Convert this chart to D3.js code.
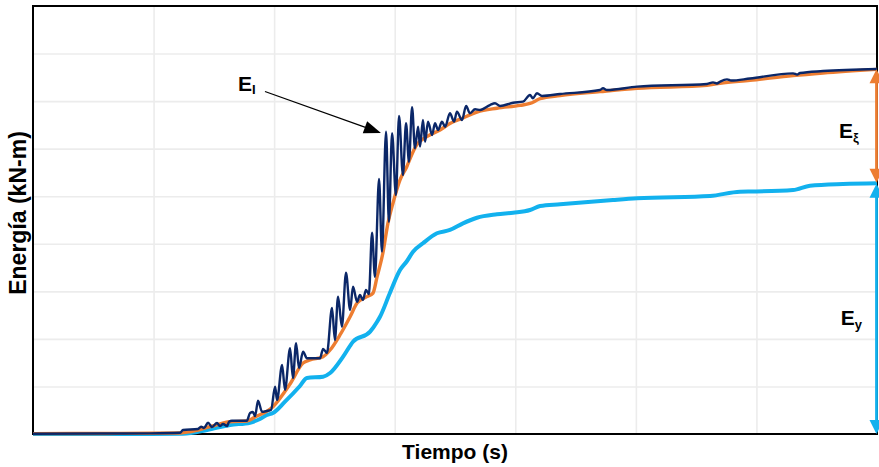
<!DOCTYPE html>
<html>
<head>
<meta charset="utf-8">
<script src="https://cdn.jsdelivr.net/npm/d3@7/dist/d3.min.js"></script>
<style>
  html, body { margin: 0; padding: 0; background: #fff; }
  svg { display: block; }
  text { font-family: "Liberation Sans", Arial, sans-serif; font-weight: bold; fill: #000; }
</style>
</head>
<body>
<svg id="chart" width="879" height="467"></svg>
<script>
// ---- Data (time in s, energy in kN-m) ----
// E_I : input energy (dark blue, oscillating)
const eiTime = [0, 2.78, 4.85, 6.10, 6.22, 6.84, 6.97, 7.09, 7.26, 7.42, 7.63, 7.75, 7.88, 8.05, 8.13, 8.25, 8.87,
  9.00, 9.12, 9.21, 9.33, 9.50, 9.70, 9.87, 10.04, 10.12, 10.33, 10.45, 10.66, 10.78, 10.91, 11.03, 11.20, 11.36,
  11.90, 12.03, 12.19, 12.40, 12.52, 12.65, 12.81, 12.98, 13.15, 13.27, 13.44, 13.56, 13.68, 13.81, 13.93, 14.06,
  14.18, 14.35, 14.47, 14.64, 14.76, 14.89, 15.05, 15.18, 15.34, 15.47, 15.59, 15.72, 15.84, 15.97, 16.05, 16.17,
  16.26, 16.38, 16.55, 16.67, 16.80, 16.96, 17.09, 17.29, 17.46, 17.58, 17.79, 17.96, 18.12, 18.33, 18.54, 18.95,
  19.16, 19.37, 19.91, 20.32, 20.61, 20.73, 20.90, 21.11, 21.86, 23.51, 23.64, 23.80, 25.05, 27.95, 28.20, 28.36,
  28.49, 28.78, 28.95, 29.73, 31.52, 31.69, 31.81, 32.76, 35.0];
const eiEnergy = [0.2, 0.5, 0.7, 1.3, 4.2, 5.3, 7.7, 6.3, 11.9, 7.4, 11.6, 8.4, 10.5, 8.4, 12.9, 14.0, 14.0,
  22.1, 23.1, 18.9, 35.0, 23.4, 24.2, 25.2, 49.7, 35.7, 72.5, 46.3, 90.1, 58.9, 95.4, 69.4, 86.5, 79.6,
  79.6, 89.4, 85.2, 132.5, 98.8, 144.4, 112.8, 169.6, 130.4, 154.9, 139.1, 146.1, 140.9, 151.4, 147.2, 211.6,
  165.4, 268.1, 191.7, 317.8, 223.2, 316.2, 251.3, 334.3, 272.3, 326.7, 286.3, 343.5, 300.4, 323.1, 302.1, 330.1,
  307.3, 328.4, 314.4, 326.7, 319.6, 328.4, 323.1, 337.2, 328.4, 338.9, 330.1, 344.9, 337.2, 341.4, 340.7, 345.9,
  347.7, 344.9, 348.3, 349.4, 356.4, 353.0, 358.2, 355.4, 357.5, 361.7, 363.5, 361.7, 365.2, 368.0, 369.7, 368.5,
  370.4, 372.9, 371.6, 373.8, 379.2, 377.9, 379.5, 381.6, 383.8];

// Smoothed energy (orange)
const eaTime = [0, 3, 6.10, 6.51, 7.34, 8.17, 8.87, 9.21, 9.95, 10.66, 11.20, 11.49, 12.03, 12.32, 12.73, 13.15,
  13.44, 13.85, 14.10, 14.27, 14.51, 14.72, 14.93, 15.22, 15.50, 15.70, 15.91, 16.33, 16.88, 17.29, 17.71, 18.41,
  19.24, 20.20, 20.61, 21.03, 21.86, 23.51, 25.05, 27.95, 28.49, 29.73, 31.52, 32.76, 35.0];
const eaEnergy = [0.4, 0.6, 1.1, 2.4, 7.7, 12.9, 13.7, 17.9, 28.7, 52.6, 74.6, 77.8, 81.3, 88.3, 104.1, 123.3,
  137.7, 144.4, 148.2, 165.4, 190.3, 221.8, 242.9, 267.1, 281.0, 293.3, 303.9, 312.6, 319.6, 326.5, 331.0, 338.5,
  342.5, 345.5, 347.5, 352.5, 355.8, 360.0, 363.5, 366.5, 368.8, 371.8, 376.8, 379.5, 383.4];

// E_y (light blue)
const eyTime = [0, 4.85, 6.22, 7.22, 8.17, 9.00, 9.41, 9.70, 9.95, 10.45, 11.07, 11.36, 12.03, 12.32, 12.86, 13.27,
  13.98, 14.27, 14.39, 14.80, 15.22, 15.51, 15.76, 16.17, 16.75, 17.29, 17.83, 18.41, 19.24, 19.91, 20.61, 21.03,
  21.86, 24.05, 25.05, 28.08, 29.32, 29.94, 31.52, 32.22, 33.59, 35.0];
const eyEnergy = [0, 0, 0.3, 4.2, 9.5, 11.9, 15.8, 20.0, 22.1, 34.0, 50.5, 58.9, 60.2, 64.1, 81.3, 97.0,
  107.6, 118.1, 123.3, 148.2, 172.4, 181.9, 191.7, 200.5, 211.0, 214.5, 221.5, 227.4, 231.0, 232.7, 235.5, 239.7,
  241.5, 246.0, 247.8, 250.2, 254.8, 255.0, 256.5, 261.1, 262.9, 263.6];

const xTicks = [5, 10, 15, 20, 25, 30];
const yTicks = [50, 100, 150, 200, 250, 300, 350, 400];
const xTitle = "Tiempo (s)";
const yTitle = "Energía (kN-m)";

// ---- Layout ----
const W = 879, H = 467;
const m = { left: 33, right: 2, top: 6, bottom: 33 };
const svg = d3.select("#chart");
const x = d3.scaleLinear().domain([0, 35]).range([m.left, W - m.right]);
const y = d3.scaleLinear().domain([0, 450]).range([H - m.bottom, m.top]);

const colNavy = "#0b2768", colOrange = "#ed7d31", colBlue = "#12b1ee";

// gridlines
svg.append("g")
  .attr("transform", `translate(0,${m.top})`)
  .call(d3.axisBottom(x).tickValues(xTicks).tickSize(H - m.top - m.bottom).tickFormat(""))
  .call(g => g.select(".domain").remove())
  .call(g => g.selectAll("line").attr("stroke", "#ececec").attr("stroke-width", 1.6));
svg.append("g")
  .attr("transform", `translate(${m.left},0)`)
  .call(d3.axisRight(y).tickValues(yTicks).tickSize(W - m.left - m.right).tickFormat(""))
  .call(g => g.select(".domain").remove())
  .call(g => g.selectAll("line").attr("stroke", "#ececec").attr("stroke-width", 1.6));

// frame
svg.append("rect")
  .attr("x", m.left).attr("y", m.top)
  .attr("width", W - m.left - m.right).attr("height", H - m.top - m.bottom)
  .attr("fill", "none").attr("stroke", "#000").attr("stroke-width", 2);

const line = d3.line().x(d => x(d[0])).y(d => y(d[1])).curve(d3.curveMonotoneX);
const zipS = (t, e) => t.map((v, i) => [v, e[i]]);

svg.append("path").datum(zipS(eyTime, eyEnergy))
  .attr("d", line).attr("fill", "none").attr("stroke", colBlue).attr("stroke-width", 4)
  .attr("stroke-linejoin", "round");
svg.append("path").datum(zipS(eaTime, eaEnergy))
  .attr("d", line).attr("fill", "none").attr("stroke", colOrange).attr("stroke-width", 3.4)
  .attr("stroke-linejoin", "round");
svg.append("path").datum(zipS(eiTime, eiEnergy))
  .attr("d", line).attr("fill", "none").attr("stroke", colNavy).attr("stroke-width", 2.4)
  .attr("stroke-linejoin", "round");

// arrowhead helper: tip (tx,ty), direction unit vector from base to tip
function arrowHead(tx, ty, dx, dy, len, half, color) {
  const bx = tx - dx * len, by = ty - dy * len;
  const px = -dy * half, py = dx * half;
  svg.append("path")
    .attr("d", `M${tx},${ty}L${bx + px},${by + py}L${bx - px},${by - py}Z`)
    .attr("fill", color);
}

// double arrows on the right
const tEnd = 35;
const xa = x(tEnd) - 0.5;
const yTop = y(eaEnergy[eaEnergy.length - 1]);
const yMid = y(eyEnergy[eyEnergy.length - 1]);
const yBot = y(0);
svg.append("line").attr("x1", xa).attr("x2", xa).attr("y1", yTop + 4).attr("y2", yMid - 4)
  .attr("stroke", colOrange).attr("stroke-width", 2.8);
arrowHead(xa, yTop, 0, -1, 14, 7, colOrange);
arrowHead(xa, yMid - 0.5, 0, 1, 14, 7, colOrange);
svg.append("line").attr("x1", xa).attr("x2", xa).attr("y1", yMid + 4).attr("y2", yBot - 4)
  .attr("stroke", colBlue).attr("stroke-width", 2.8);
arrowHead(xa, yMid + 0.5, 0, -1, 14, 7, colBlue);
arrowHead(xa, yBot, 0, 1, 14, 7, colBlue);

// E_I pointer arrow
const a0 = [x(9.62), y(360.1)], a1 = [x(14.43), y(316.5)];
const L = Math.hypot(a1[0] - a0[0], a1[1] - a0[1]);
const ux = (a1[0] - a0[0]) / L, uy = (a1[1] - a0[1]) / L;
svg.append("line").attr("x1", a0[0]).attr("y1", a0[1])
  .attr("x2", a1[0] - ux * 12).attr("y2", a1[1] - uy * 12)
  .attr("stroke", "#000").attr("stroke-width", 1.3);
arrowHead(a1[0], a1[1], ux, uy, 17, 6.5, "#000");

// labels with subscripts
function subLabel(xp, yp, main, sub, subDy) {
  const t = svg.append("text").attr("x", xp).attr("y", yp).style("font-size", "21px");
  t.append("tspan").text(main);
  t.append("tspan").attr("dy", subDy).style("font-size", "13px").text(sub);
}
subLabel(x(8.5), y(360.6), "E", "I", 3);
subLabel(x(33.42), y(311.2), "E", "ξ", 4);
subLabel(x(33.5), y(114.6), "E", "y", 4);

// axis titles
svg.append("text").attr("x", (m.left + W - m.right) / 2).attr("y", 459)
  .attr("text-anchor", "middle").style("font-size", "21px").text(xTitle);
svg.append("text").attr("transform", `translate(26,${(m.top + H - m.bottom) / 2 - 7}) rotate(-90)`)
  .attr("text-anchor", "middle").style("font-size", "23px").text(yTitle);
</script>
</body>
</html>
